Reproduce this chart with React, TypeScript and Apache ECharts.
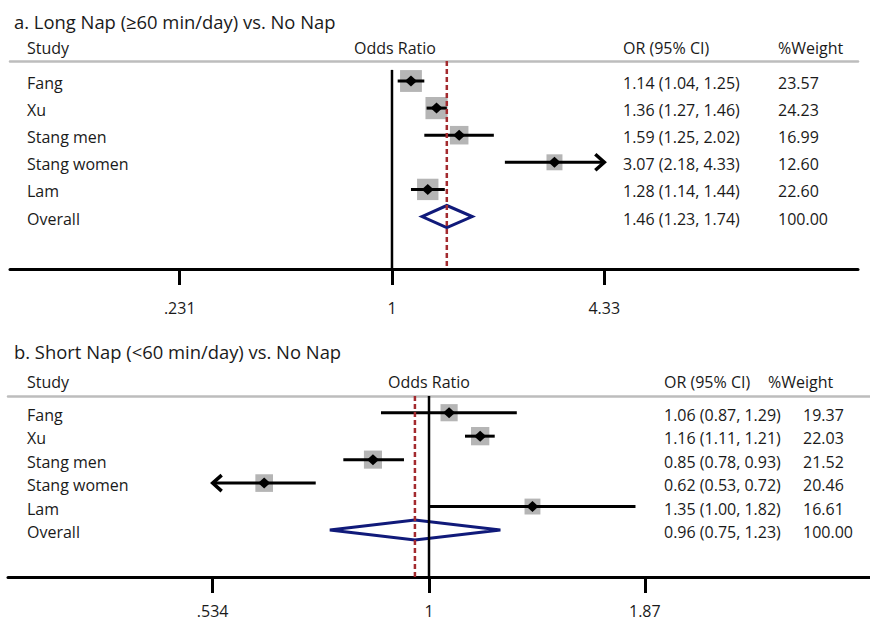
import React, { useEffect, useRef } from "react";
import * as echarts from "echarts";

// ---------- data ----------
const STUDIES = ["Fang", "Xu", "Stang men", "Stang women", "Lam"];
const OVERALL_LABEL = "Overall";
const OVERALL_WEIGHT = 100;
const HEADERS = ["Study", "Odds Ratio", "OR (95% CI)", "%Weight"];

const A_TITLE = "a. Long Nap (≥60 min/day) vs. No Nap";
const A_OR = [1.14, 1.36, 1.59, 3.07, 1.28];
const A_LO = [1.04, 1.27, 1.25, 2.18, 1.14];
const A_HI = [1.25, 1.46, 2.02, 4.33, 1.44];
const A_WEIGHT = [23.57, 24.23, 16.99, 12.6, 22.6];
const A_OVERALL = [1.46, 1.23, 1.74];
const A_TICKS = [0.231, 1, 4.33];
const A_TICK_LABELS = [".231", "1", "4.33"];

const B_TITLE = "b. Short Nap (<60 min/day) vs. No Nap";
const B_OR = [1.06, 1.16, 0.85, 0.62, 1.35];
const B_LO = [0.87, 1.11, 0.78, 0.53, 1.0];
const B_HI = [1.29, 1.21, 0.93, 0.72, 1.82];
const B_WEIGHT = [19.37, 22.03, 21.52, 20.46, 16.61];
const B_OVERALL = [0.96, 0.75, 1.23];
const B_TICKS = [0.534, 1, 1.87];
const B_TICK_LABELS = [".534", "1", "1.87"];

// ---------- layout ----------
const FONT = "'Open Sans', sans-serif";
const TEXT_COLOR = "#1a1a1a";
const BOX_COLOR = "#b5b5b5";
const NAVY = "#101a7a";
const RED = "#a32a2e";

const LAYOUT_A = {
  left: 10, right: 12, top: 61, height: 208,
  xMin: -2.637, xMax: 3.217, yMin: 0.262, yMax: 7.937,
  refStart: 0.59, boxK: 4.5, diamondH: 11,
  titleY: 21, headerY: 48, nameX: 27, orX: 623, wX: 778, headerWX: 778, oddsX: 395,
  labelMargin: 31,
};
const LAYOUT_B = {
  left: 8, right: 0, top: 396, height: 181,
  xMin: -1.221, xMax: 1.279, yMin: 0.288, yMax: 8.003,
  refStart: 0.288, boxK: 3.9, diamondH: 10,
  titleY: 351, headerY: 382, nameX: 27, orX: 664, wX: 803, headerWX: 768, oddsX: 429,
  labelMargin: 26,
};

const ln = Math.log;
const f2 = (v: number) => v.toFixed(2);

function buildPanel(
  gi: number,
  title: string,
  or: number[],
  lo: number[],
  hi: number[],
  weight: number[],
  overall: number[],
  ticks: number[],
  tickLabels: string[],
  L: typeof LAYOUT_A
) {
  const tickVals = ticks.map(ln);
  const clipMin = tickVals[0];
  const clipMax = tickVals[tickVals.length - 1];
  const xBottom = 2 * gi;

  const grid = { left: L.left, right: L.right, top: L.top, height: L.height };

  const xAxes = [
    {
      type: "value",
      gridIndex: gi,
      position: "bottom",
      min: L.xMin,
      max: L.xMax,
      axisLine: { show: true, onZero: false, lineStyle: { color: "#000", width: 3 } },
      axisTick: {
        show: true,
        inside: false,
        length: 16,
        customValues: tickVals,
        lineStyle: { color: "#000", width: 3 },
      },
      axisLabel: {
        show: true,
        customValues: tickVals,
        margin: L.labelMargin,
        fontSize: 16,
        fontFamily: FONT,
        color: TEXT_COLOR,
        formatter: (v: number) => {
          let best = 0;
          tickVals.forEach((t, i) => {
            if (Math.abs(t - v) < Math.abs(tickVals[best] - v)) best = i;
          });
          return tickLabels[best];
        },
      },
      splitLine: { show: false },
    },
    {
      type: "value",
      gridIndex: gi,
      position: "top",
      min: L.xMin,
      max: L.xMax,
      axisLine: { show: true, onZero: false, lineStyle: { color: "#bdbdbd", width: 2.5 } },
      axisTick: { show: false },
      axisLabel: { show: false },
      splitLine: { show: false },
    },
  ];

  const yAxis = {
    type: "value",
    gridIndex: gi,
    inverse: true,
    min: L.yMin,
    max: L.yMax,
    show: false,
    splitLine: { show: false },
  };

  const studyData = or.map((v, i) => [ln(v), ln(lo[i]), ln(hi[i]), i + 1, weight[i]]);

  const studySeries = {
    type: "custom",
    name: "studies" + gi,
    xAxisIndex: xBottom,
    yAxisIndex: gi,
    data: studyData,
    renderItem: (_params: any, api: any) => {
      const orL = api.value(0);
      const loL = api.value(1);
      const hiL = api.value(2);
      const row = api.value(3);
      const w = api.value(4);
      const c = api.coord([orL, row]);
      const x = c[0];
      const y = c[1];
      const leftArrow = loL <= clipMin;
      const rightArrow = hiL >= clipMax;
      const x1 = api.coord([Math.max(loL, clipMin), row])[0];
      const x2 = api.coord([Math.min(hiL, clipMax), row])[0];
      const s = L.boxK * Math.sqrt(w);
      const children: any[] = [
        {
          type: "rect",
          shape: { x: x - s / 2, y: y - s / 2, width: s, height: s },
          style: { fill: BOX_COLOR },
        },
        {
          type: "line",
          shape: { x1, y1: y, x2, y2: y },
          style: { stroke: "#000", lineWidth: 3 },
        },
      ];
      if (rightArrow) {
        children.push({
          type: "polyline",
          shape: { points: [[x2 - 9, y - 8], [x2, y], [x2 - 9, y + 8]] },
          style: { stroke: "#000", lineWidth: 3.5, fill: null, lineJoin: "miter" },
        });
      }
      if (leftArrow) {
        children.push({
          type: "polyline",
          shape: { points: [[x1 + 9, y - 8], [x1, y], [x1 + 9, y + 8]] },
          style: { stroke: "#000", lineWidth: 3.5, fill: null, lineJoin: "miter" },
        });
      }
      children.push({
        type: "polygon",
        shape: { points: [[x - 6, y], [x, y - 5.5], [x + 6, y], [x, y + 5.5]] },
        style: { fill: "#000" },
      });
      return { type: "group", children };
    },
    z: 3,
  };

  const overallRow = or.length + 1;
  const overallSeries = {
    type: "custom",
    name: "overall" + gi,
    xAxisIndex: xBottom,
    yAxisIndex: gi,
    data: [[ln(overall[0]), ln(overall[1]), ln(overall[2]), overallRow]],
    renderItem: (_params: any, api: any) => {
      const row = api.value(3);
      const c = api.coord([api.value(0), row]);
      const l = api.coord([api.value(1), row]);
      const r = api.coord([api.value(2), row]);
      const h = L.diamondH;
      return {
        type: "polygon",
        shape: { points: [[l[0], c[1]], [c[0], c[1] - h], [r[0], c[1]], [c[0], c[1] + h]] },
        style: { fill: null, stroke: NAVY, lineWidth: 3, lineJoin: "miter" },
      };
    },
    z: 3,
  };

  const refSeries = {
    type: "custom",
    name: "ref" + gi,
    xAxisIndex: xBottom,
    yAxisIndex: gi,
    data: [
      [0, L.refStart, L.yMax, 0],
      [ln(overall[0]), L.yMin, L.yMax, 1],
    ],
    renderItem: (_params: any, api: any) => {
      const xv = api.value(0);
      const p1 = api.coord([xv, api.value(1)]);
      const p2 = api.coord([xv, api.value(2)]);
      const dashed = api.value(3) === 1;
      return {
        type: "line",
        shape: { x1: p1[0], y1: p1[1], x2: p2[0], y2: p2[1] },
        style: dashed
          ? { stroke: RED, lineWidth: 2.5, lineDash: [5, 3] }
          : { stroke: "#000", lineWidth: 2.5 },
      };
    },
    z: 4,
  };

  const names = [...STUDIES, OVERALL_LABEL];
  const orTexts = [
    ...or.map((v, i) => `${f2(v)} (${f2(lo[i])}, ${f2(hi[i])})`),
    `${f2(overall[0])} (${f2(overall[1])}, ${f2(overall[2])})`,
  ];
  const wTexts = [...weight.map(f2), f2(OVERALL_WEIGHT)];

  const textSeries = {
    type: "custom",
    name: "text" + gi,
    xAxisIndex: xBottom,
    yAxisIndex: gi,
    data: names.map((_, i) => [0, i + 1]),
    renderItem: (params: any, api: any) => {
      const i = params.dataIndex;
      const y = api.coord([0, api.value(1)])[1] + 2;
      const st = (text: string, x: number) => ({
        type: "text",
        style: {
          text,
          x,
          y,
          fill: TEXT_COLOR,
          fontSize: 16,
          fontFamily: FONT,
          align: "left",
          verticalAlign: "middle",
        },
      });
      return {
        type: "group",
        children: [st(names[i], L.nameX), st(orTexts[i], L.orX), st(wTexts[i], L.wX)],
      };
    },
    z: 5,
  };

  const txt = (text: string, x: number, y: number, size: number, align = "left") => ({
    type: "text",
    x,
    y,
    style: {
      text,
      fontSize: size,
      fontFamily: FONT,
      fill: TEXT_COLOR,
      align,
      verticalAlign: "middle",
    },
  });

  const graphics = [
    txt(title, 14, L.titleY, 18.4),
    txt(HEADERS[0], L.nameX, L.headerY, 16),
    txt(HEADERS[1], L.oddsX, L.headerY, 16, "center"),
    txt(HEADERS[2], L.orX, L.headerY, 16),
    txt(HEADERS[3], L.headerWX, L.headerY, 16),
  ];

  return {
    grid,
    xAxes,
    yAxis,
    series: [studySeries, overallSeries, refSeries, textSeries],
    graphics,
  };
}

export default function App() {
  const ref = useRef<HTMLDivElement>(null);

  useEffect(() => {
    if (!ref.current) return;
    const chart = echarts.init(ref.current, undefined, { renderer: "svg" });
    const a = buildPanel(0, A_TITLE, A_OR, A_LO, A_HI, A_WEIGHT, A_OVERALL, A_TICKS, A_TICK_LABELS, LAYOUT_A);
    const b = buildPanel(1, B_TITLE, B_OR, B_LO, B_HI, B_WEIGHT, B_OVERALL, B_TICKS, B_TICK_LABELS, LAYOUT_B);
    chart.setOption({
      animation: false,
      backgroundColor: "#ffffff",
      grid: [a.grid, b.grid],
      xAxis: [...a.xAxes, ...b.xAxes],
      yAxis: [a.yAxis, b.yAxis],
      series: [...a.series, ...b.series],
      graphic: [...a.graphics, ...b.graphics],
    } as any);
    return () => chart.dispose();
  }, []);

  return (
    <div
      ref={ref}
      style={{ position: "fixed", left: 0, top: 0, width: 870, height: 622, background: "#fff" }}
    />
  );
}
